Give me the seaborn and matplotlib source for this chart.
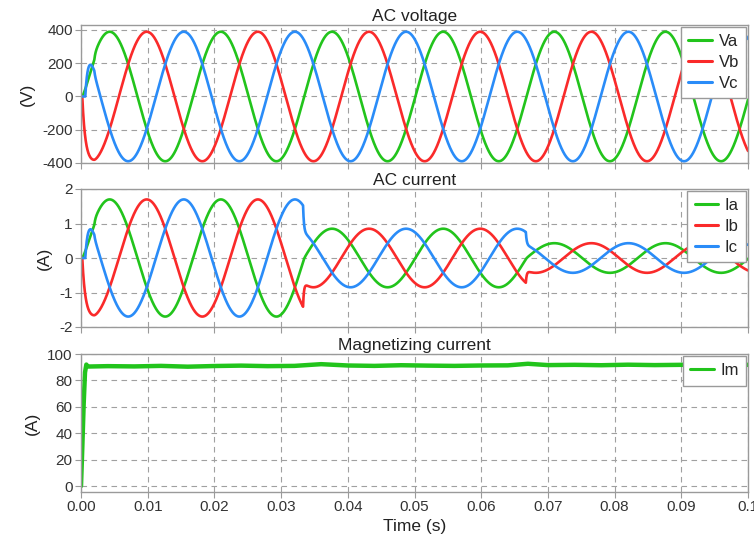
import numpy as np
import pandas as pd
import matplotlib
matplotlib.use("Agg")
import matplotlib.pyplot as plt
import seaborn as sns

# ---------------- data ----------------
freq_hz = 60.0
phase_names = ["a", "b", "c"]
phase_deg = [0.0, -120.0, 120.0]
start_delay_s = [0.0002, 0.0002, 0.00065]
start_tau_s = 0.0004
start_window_s = 0.002
lag_tau_s = 0.00013
voltage_peak_v = 390.0
current_seg_start_s = [0.0, 0.0333, 0.0667]
current_peak_a = [1.70, 0.85, 0.43]

im_time_s = [0.0, 0.0002, 0.0004, 0.0006, 0.0008, 0.001, 0.004, 0.008, 0.012,
             0.016, 0.020, 0.024, 0.028, 0.032, 0.036, 0.040, 0.044, 0.048,
             0.052, 0.056, 0.060, 0.064, 0.067, 0.070, 0.074, 0.078, 0.082,
             0.086, 0.090, 0.094, 0.100]
im_value_a = [0.0, 30.0, 62.0, 86.0, 92.0, 90.5, 90.8, 90.6, 91.0,
              90.4, 90.9, 91.2, 90.8, 91.0, 92.3, 91.3, 91.0, 91.5,
              91.2, 91.0, 91.3, 91.4, 92.6, 91.6, 91.8, 91.5, 91.9,
              91.6, 91.8, 92.0, 91.8]

x_ticks = [0.00, 0.01, 0.02, 0.03, 0.04, 0.05, 0.06, 0.07, 0.08, 0.09, 0.10]
x_ticklabels = ["0.00", "0.01", "0.02", "0.03", "0.04", "0.05", "0.06",
                "0.07", "0.08", "0.09", "0.1"]
v_ticks = [-400, -200, 0, 200, 400]
i_ticks = [-2, -1, 0, 1, 2]
m_ticks = [0, 20, 40, 60, 80, 100]

colors = ["#22c41c", "#fa2a2a", "#2a8cf8"]

# ---------------- build waveforms ----------------
dt = 1e-5
t = np.arange(0.0, 0.1 + dt / 2, dt)
w = 2 * np.pi * freq_hz
tau = np.where(t < start_window_s, start_tau_s, lag_tau_s)
alpha = dt / (tau + dt)


def lagged(target, delay):
    target = np.where(t < delay, 0.0, target)
    out = np.zeros_like(target)
    for k in range(1, len(target)):
        out[k] = out[k - 1] + alpha[k] * (target[k] - out[k - 1])
    return out


amp_i = np.zeros_like(t)
for s, a in zip(current_seg_start_s, current_peak_a):
    amp_i[t >= s] = a

v_rows, i_rows = [], []
for name, ph, dl in zip(phase_names, phase_deg, start_delay_s):
    base = np.sin(w * t + np.deg2rad(ph))
    v = lagged(voltage_peak_v * base, dl)
    i = lagged(amp_i * base, dl)
    v_rows.append(pd.DataFrame({"t": t, "val": v, "sig": "V" + name}))
    i_rows.append(pd.DataFrame({"t": t, "val": i, "sig": "I" + name}))
df_v = pd.concat(v_rows, ignore_index=True)
df_i = pd.concat(i_rows, ignore_index=True)
df_m = pd.DataFrame({"t": im_time_s, "val": im_value_a, "sig": "Im"})

# ---------------- plotting ----------------
sns.set_style("white")
plt.rcParams["font.family"] = ["Liberation Sans", "DejaVu Sans"]
FS_TICK = 11
FS_LAB = 12.5
FS_LEG = 12

fig = plt.figure(figsize=(7.54, 5.35), dpi=100)
W = 754.0
H = 535.0
L = 81 / W
AW = (748 - 81) / W


def mk(top, bot):
    return fig.add_axes([L, 1 - bot / H, AW, (bot - top) / H])


ax_v = mk(25, 163)
ax_i = mk(189, 327)
ax_m = mk(354, 492)

sns.lineplot(data=df_v, x="t", y="val", hue="sig", hue_order=["Va", "Vb", "Vc"],
             palette=colors, estimator=None, linewidth=1.9, ax=ax_v)
sns.lineplot(data=df_i, x="t", y="val", hue="sig", hue_order=["Ia", "Ib", "Ic"],
             palette=colors, estimator=None, linewidth=1.9, ax=ax_i)
sns.lineplot(data=df_m, x="t", y="val", hue="sig", hue_order=["Im"],
             palette=[colors[0]], estimator=None, linewidth=3.2, ax=ax_m)

settings = [
    (ax_v, "AC voltage", "(V)", v_ticks, (-400, 430), ["-400", "-200", "0", "200", "400"]),
    (ax_i, "AC current", "(A)", i_ticks, (-2, 2), ["-2", "-1", "0", "1", "2"]),
    (ax_m, "Magnetizing current", "(A)", m_ticks, (-4.5, 100), [str(v) for v in m_ticks]),
]
for ax, title, ylab, yt, ylim, ytl in settings:
    ax.set_xlim(0, 0.1)
    ax.set_ylim(*ylim)
    ax.set_xticks(x_ticks)
    ax.set_yticks(yt)
    ax.set_yticklabels(ytl)
    ax.set_title(title, fontsize=FS_LAB, pad=3, color="#222222")
    ax.set_ylabel(ylab, fontsize=FS_LAB, labelpad=5, color="#222222")
    ax.set_xlabel("")
    ax.grid(True, linestyle=(0, (5, 4)), color="#a0a0a0", linewidth=0.8)
    ax.set_axisbelow(True)
    for sp in ax.spines.values():
        sp.set_color("#9a9a9a")
        sp.set_linewidth(1.0)
    ax.tick_params(axis="both", which="major", length=4, width=0.8,
                   color="#9a9a9a", labelsize=FS_TICK, labelcolor="#333333",
                   direction="out", left=True, bottom=True, pad=2)
    handles, labels = ax.get_legend_handles_labels()
    if ax.get_legend() is not None:
        ax.get_legend().remove()
    leg = ax.legend(handles, labels, loc="upper right", fontsize=FS_LEG,
                    frameon=True, fancybox=False, framealpha=1.0,
                    edgecolor="#9a9a9a", borderaxespad=0.1, handlelength=1.4,
                    handletextpad=0.4, labelspacing=0.35, borderpad=0.45)
    leg.get_frame().set_linewidth(1.0)
    for ln in leg.get_lines():
        ln.set_linewidth(2.2)

for ax in (ax_v, ax_i):
    ax.tick_params(axis="x", labelbottom=False)
ax_m.set_xticklabels(x_ticklabels)
ax_m.set_xlabel("Time (s)", fontsize=FS_LAB, labelpad=3, color="#222222")

fig.savefig("out.png", dpi=100)
